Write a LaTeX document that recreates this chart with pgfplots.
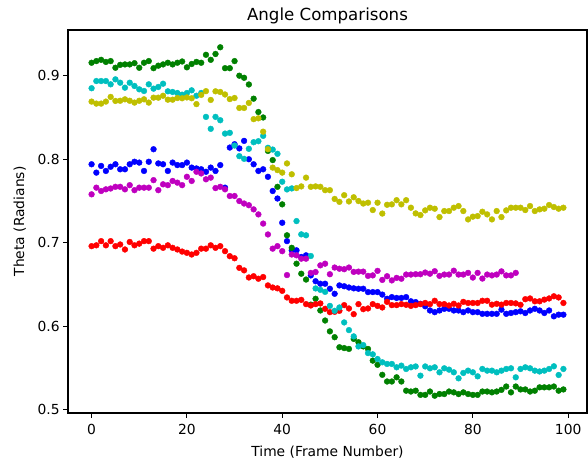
\documentclass[border=0pt]{standalone}
\usepackage{fontspec}
\setmainfont{DejaVu Sans}
\usepackage{pgfplots}
\usepackage{pgfplotstable}
\pgfplotsset{compat=1.18}
\definecolor{mplb}{rgb}{0,0,1}
\definecolor{mplg}{rgb}{0,0.5,0}
\definecolor{mplr}{rgb}{1,0,0}
\definecolor{mplc}{rgb}{0,0.75,0.75}
\definecolor{mplm}{rgb}{0.75,0,0.75}
\definecolor{mply}{rgb}{0.75,0.75,0}
\pgfplotstableread{
X B G R C M Y
0 0.794 0.9155 0.696 0.885 0.758 0.869
1 0.784 0.9175 0.697 0.8936 0.766 0.8666
2 0.792 0.919 0.702 0.8936 0.762 0.8666
3 0.786 0.9165 0.697 0.8936 0.764 0.869
4 0.791 0.9175 0.702 0.8897 0.765 0.8746
5 0.794 0.9095 0.696 0.8956 0.767 0.8698
6 0.788 0.913 0.698 0.8916 0.767 0.870
7 0.788 0.9135 0.692 0.8857 0.764 0.8717
8 0.794 0.9135 0.701 0.8916 0.769 0.870
9 0.797 0.915 0.697 0.8877 0.763 0.8678
10 0.796 0.9095 0.699 0.8837 0.766 0.870
11 0.786 0.9155 0.702 0.8817 0.766 0.8717
12 0.797 0.9175 0.702 0.8897 0.766 0.8678
13 0.812 0.909 0.693 0.8845 0.775 0.8737
14 0.795 0.912 0.696 0.8865 0.763 0.8737
15 0.794 0.9135 0.694 0.8904 0.770 0.876
16 0.786 0.9155 0.697 0.8813 0.769 0.8713
17 0.796 0.9135 0.694 0.8805 0.774 0.8713
18 0.793 0.9155 0.692 0.8793 0.772 0.8733
19 0.793 0.917 0.6895 0.8773 0.769 0.873
20 0.796 0.910 0.688 0.8793 0.779 0.874
21 0.790 0.914 0.686 0.8825 0.774 0.873
22 0.789 0.9165 0.688 0.876 0.785 0.866
23 0.788 0.9155 0.693 0.8793 0.783 0.877
24 0.785 0.925 0.693 0.8507 0.776 0.8815
25 0.790 0.919 0.697 0.8364 0.778 0.871
26 0.786 0.926 0.694 0.8507 0.7655 0.8813
27 0.793 0.934 0.696 0.8467 0.767 0.8805
28 0.766 0.909 0.690 0.8307 0.764 0.8775
29 0.814 0.909 0.684 0.8316 0.756 0.872
30 0.818 0.9175 0.6815 0.8164 0.756 0.8733
31 0.813 0.900 0.670 0.8037 0.750 0.8614
32 0.822 0.8975 0.667 0.8005 0.747 0.8614
33 0.800 0.8895 0.6585 0.8125 0.745 0.8674
34 0.794 0.8725 0.660 0.8204 0.740 0.848
35 0.786 0.8565 0.657 0.8216 0.734 0.849
36 0.788 0.850 0.659 0.828 0.723 0.833
37 0.779 0.810 0.649 0.8137 0.710 0.812
38 0.762 0.799 0.6465 0.8116 0.693 0.790
39 0.753 0.767 0.6455 0.8065 0.696 0.787
40 0.724 0.746 0.6425 0.7731 0.690 0.784
41 0.702 0.709 0.6346 0.7639 0.6614 0.795
42 0.691 0.694 0.6306 0.7651 0.686 0.782
43 0.691 0.675 0.6306 0.726 0.685 0.7655
44 0.683 0.663 0.6317 0.7101 0.681 0.7675
45 0.685 0.656 0.6266 0.709 0.681 0.778
46 0.661 0.626 0.625 0.6842 0.664 0.767
47 0.654 0.633 0.6266 0.6454 0.665 0.7675
48 0.651 0.619 0.6274 0.6437 0.673 0.767
49 0.651 0.607 0.621 0.6413 0.675 0.763
50 0.645 0.594 0.617 0.6245 0.6624 0.763
51 0.639 0.587 0.6174 0.6186 0.6704 0.7525
52 0.649 0.575 0.6186 0.6226 0.669 0.749
53 0.648 0.574 0.6254 0.6047 0.6684 0.757
54 0.6465 0.573 0.6214 0.5955 0.6704 0.7495
55 0.6455 0.585 0.6146 0.588 0.6652 0.7545
56 0.645 0.581 0.6266 0.576 0.6655 0.750
57 0.645 0.576 0.6206 0.5776 0.6655 0.747
58 0.641 0.573 0.6214 0.568 0.6604 0.748
59 0.641 0.559 0.6266 0.5665 0.661 0.7392
60 0.641 0.554 0.6245 0.5609 0.6664 0.748
61 0.638 0.542 0.6226 0.557 0.6556 0.735
62 0.633 0.534 0.6293 0.555 0.660 0.7455
63 0.635 0.534 0.6254 0.555 0.655 0.746
64 0.634 0.539 0.6254 0.551 0.658 0.751
65 0.634 0.534 0.6266 0.553 0.657 0.746
66 0.635 0.523 0.6258 0.549 0.662 0.751
67 0.630 0.522 0.6245 0.551 0.662 0.742
68 0.629 0.523 0.6254 0.552 0.6624 0.7352
69 0.627 0.518 0.6266 0.541 0.6624 0.7332
70 0.624 0.518 0.628 0.552 0.6644 0.7388
71 0.619 0.522 0.6266 0.5498 0.663 0.742
72 0.617 0.517 0.6306 0.551 0.666 0.7408
73 0.619 0.519 0.6266 0.545 0.6604 0.7308
74 0.621 0.519 0.6266 0.5498 0.662 0.738
75 0.621 0.522 0.625 0.5482 0.662 0.738
76 0.619 0.521 0.627 0.545 0.6666 0.742
77 0.619 0.519 0.625 0.5378 0.662 0.744
78 0.617 0.521 0.6293 0.5442 0.662 0.738
79 0.619 0.519 0.628 0.547 0.664 0.728
80 0.617 0.518 0.628 0.545 0.6584 0.7313
81 0.617 0.518 0.628 0.5402 0.664 0.732
82 0.615 0.522 0.6306 0.549 0.6572 0.7372
83 0.615 0.522 0.6306 0.547 0.662 0.734
84 0.615 0.521 0.626 0.547 0.661 0.728
85 0.615 0.522 0.627 0.545 0.662 0.738
86 0.620 0.524 0.626 0.547 0.6658 0.7308
87 0.615 0.528 0.628 0.549 0.661 0.7388
88 0.616 0.521 0.628 0.5498 0.661 0.742
89 0.617 0.528 0.6275 0.539 0.664 0.742
90 0.618 0.5245 0.6258 0.549 nan 0.742
91 0.616 0.5245 0.6325 0.551 nan 0.7392
92 0.619 0.522 0.6334 0.5498 nan 0.744
93 0.621 0.523 0.630 0.547 nan 0.738
94 0.619 0.527 0.630 0.546 nan 0.740
95 0.616 0.527 0.632 0.547 nan 0.7408
96 0.619 0.527 0.6334 0.549 nan 0.7452
97 0.612 0.528 0.636 0.5522 nan 0.7428
98 0.614 0.523 0.6346 0.5418 nan 0.7408
99 0.614 0.5245 0.628 0.549 nan 0.742
}\angles
\begin{document}
\begin{tikzpicture}
\begin{axis}[
  width=519bp, height=383bp, scale only axis,
  xmin=-4.95, xmax=103.95, ymin=0.4963, ymax=0.9547,
  xtick={0,20,40,60,80,100},
  ytick={0.5,0.6,0.7,0.8,0.9},
  yticklabel style={/pgf/number format/.cd, fixed, fixed zerofill, precision=1},
  xticklabel style={yshift=-3bp},
  /pgf/number format/assume math mode=true,
  tick align=outside, tick pos=left,
  major tick length=4.9bp,
  every tick/.style={black, line width=1.1bp},
  axis line style={line width=1.1bp},
  tick label style={font=\fontsize{13.9}{16}\selectfont},
  label style={font=\fontsize{13.9}{16}\selectfont},
  every axis title shift=0pt,
  title style={font=\fontsize{16.7}{20}\selectfont, at={(axis description cs:0.5,1.037)}, anchor=center},
  xlabel style={at={(axis description cs:0.5,-0.102)}, anchor=center},
  ylabel style={at={(axis description cs:-0.093,0.5)}, anchor=center},
  title={Angle Comparisons},
  xlabel={Time (Frame Number)},
  ylabel={Theta (Radians)},
]
\addplot[only marks, mark=*, mark size=2.9bp, mplb, mark options={draw=none, fill=mplb}] table[x=X, y=B] {\angles};
\addplot[only marks, mark=*, mark size=2.9bp, mplg, mark options={draw=none, fill=mplg}] table[x=X, y=G] {\angles};
\addplot[only marks, mark=*, mark size=2.9bp, mplr, mark options={draw=none, fill=mplr}] table[x=X, y=R] {\angles};
\addplot[only marks, mark=*, mark size=2.9bp, mplc, mark options={draw=none, fill=mplc}] table[x=X, y=C] {\angles};
\addplot[only marks, mark=*, mark size=2.9bp, mplm, mark options={draw=none, fill=mplm}] table[x=X, y=M] {\angles};
\addplot[only marks, mark=*, mark size=2.9bp, mply, mark options={draw=none, fill=mply}] table[x=X, y=Y] {\angles};
\end{axis}
\pgfresetboundingbox
\path ([shift={(-68bp,-49bp)}]current axis.south west) rectangle ([shift={(1bp,30bp)}]current axis.north east);
\end{tikzpicture}
\end{document}
